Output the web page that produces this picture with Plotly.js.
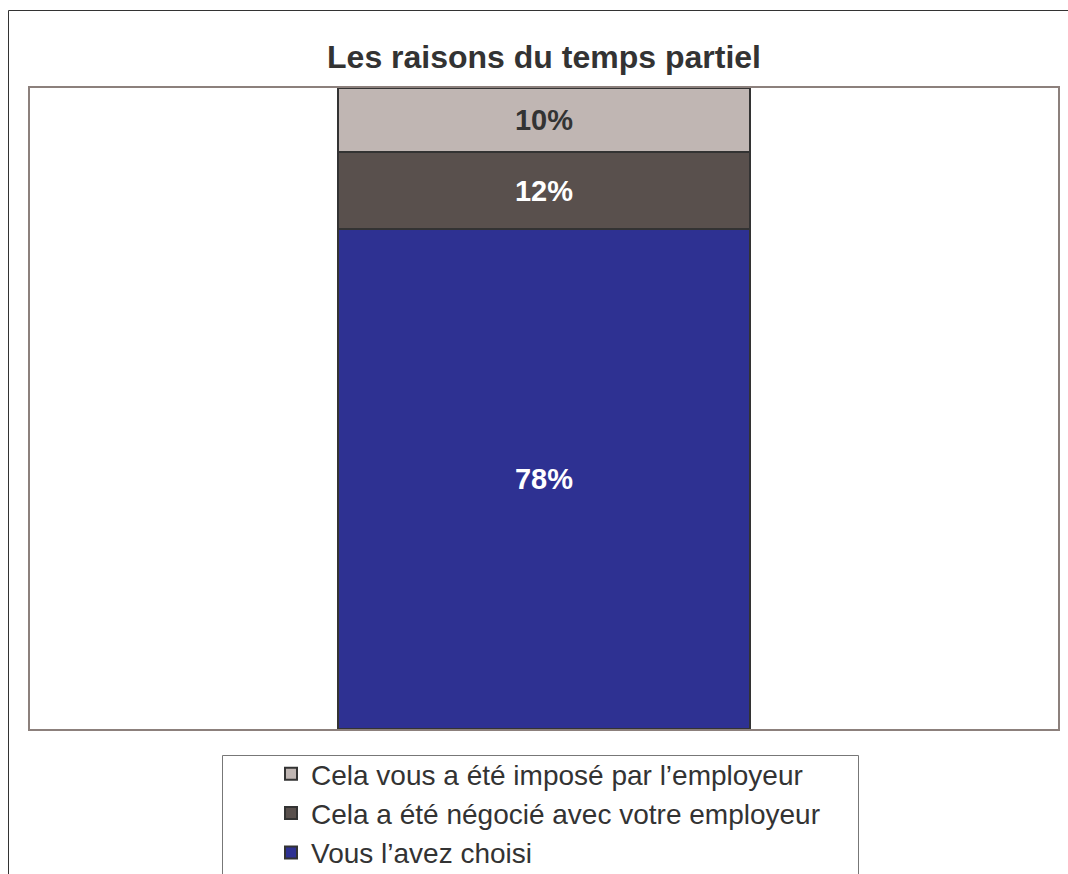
<!DOCTYPE html>
<html>
<head>
<meta charset="utf-8">
<script src="https://cdn.plot.ly/plotly-3.0.1.min.js"></script>
<style>html,body{margin:0;padding:0;background:#fff;}#chart{width:1068px;height:874px;}</style>
</head>
<body>
<div id="chart"></div>
<script>
const categories = ['Temps partiel'];
const seriesNames = ['Vous l’avez choisi', 'Cela a été négocié avec votre employeur', 'Cela vous a été imposé par l’employeur'];
const valuesChoisi = [78];
const valuesNegocie = [12];
const valuesImpose = [10];
const seriesColors = ['#2E3192', '#59504D', '#C0B6B3'];
const labelColors = ['#FFFFFF', '#FFFFFF', '#333333'];
const legendRanks = [3, 2, 1];
const seriesValues = [valuesChoisi, valuesNegocie, valuesImpose];

const W = 1068, H = 874, ML = 30, MR = 10, MT = 88, MB = 145;
const PW = W - ML - MR, PH = H - MT - MB;
const px = x => (x - ML) / PW;
const py = y => (H - MB - y) / PH;

const traces = seriesValues.map((vals, i) => ({
  type: 'bar',
  x: categories,
  y: vals,
  name: seriesNames[i],
  legendrank: legendRanks[i],
  width: 0.4,
  marker: {color: seriesColors[i], line: {color: '#333333', width: 2}},
  texttemplate: '%{y}%',
  textposition: 'inside',
  insidetextanchor: 'middle',
  textangle: 0,
  constraintext: 'none',
  textfont: {family: 'Liberation Sans, Arial, sans-serif', size: 29, color: labelColors[i], weight: 'bold'},
  hoverinfo: 'skip'
}));

const layout = {
  width: W, height: H,
  margin: {l: ML, r: MR, t: MT, b: MB, autoexpand: false},
  paper_bgcolor: '#FFFFFF',
  plot_bgcolor: '#FFFFFF',
  barmode: 'stack',
  showlegend: true,
  font: {family: 'Liberation Sans, Arial, sans-serif', color: '#333333'},
  title: {
    text: '<b>Les raisons du temps partiel</b>',
    font: {family: 'Liberation Sans, Arial, sans-serif', size: 32, color: '#333333'},
    x: 0.5, xref: 'paper', xanchor: 'center',
    y: 1 - 57 / H, yref: 'container', yanchor: 'middle'
  },
  xaxis: {
    range: [-0.5, 0.5], showticklabels: false, ticks: '', showgrid: false, zeroline: false,
    showline: true, mirror: true, linecolor: '#8C807C', linewidth: 2, fixedrange: true
  },
  yaxis: {
    range: [0, 100], showticklabels: false, ticks: '', showgrid: false, zeroline: false,
    showline: true, mirror: true, linecolor: '#8C807C', linewidth: 2, fixedrange: true
  },
  legend: {
    x: px(271), xanchor: 'left', y: py(749), yanchor: 'top',
    orientation: 'v', traceorder: 'normal',
    bgcolor: 'rgba(0,0,0,0)', borderwidth: 0,
    font: {family: 'Liberation Sans, Arial, sans-serif', size: 28, color: '#333333'}
  },
  shapes: [
    {type: 'rect', xref: 'paper', yref: 'paper', x0: px(8.5), x1: px(1100), y0: py(10.5), y1: py(900),
     line: {color: '#333333', width: 1}, fillcolor: 'rgba(0,0,0,0)', layer: 'below'},
    {type: 'rect', xref: 'paper', yref: 'paper', x0: px(222.5), x1: px(858.5), y0: py(755.5), y1: py(900),
     line: {color: '#777777', width: 1}, fillcolor: 'rgba(0,0,0,0)', layer: 'below'}
  ]
};

Plotly.newPlot('chart', traces, layout, {displayModeBar: false, staticPlot: true});
</script>
</body>
</html>
